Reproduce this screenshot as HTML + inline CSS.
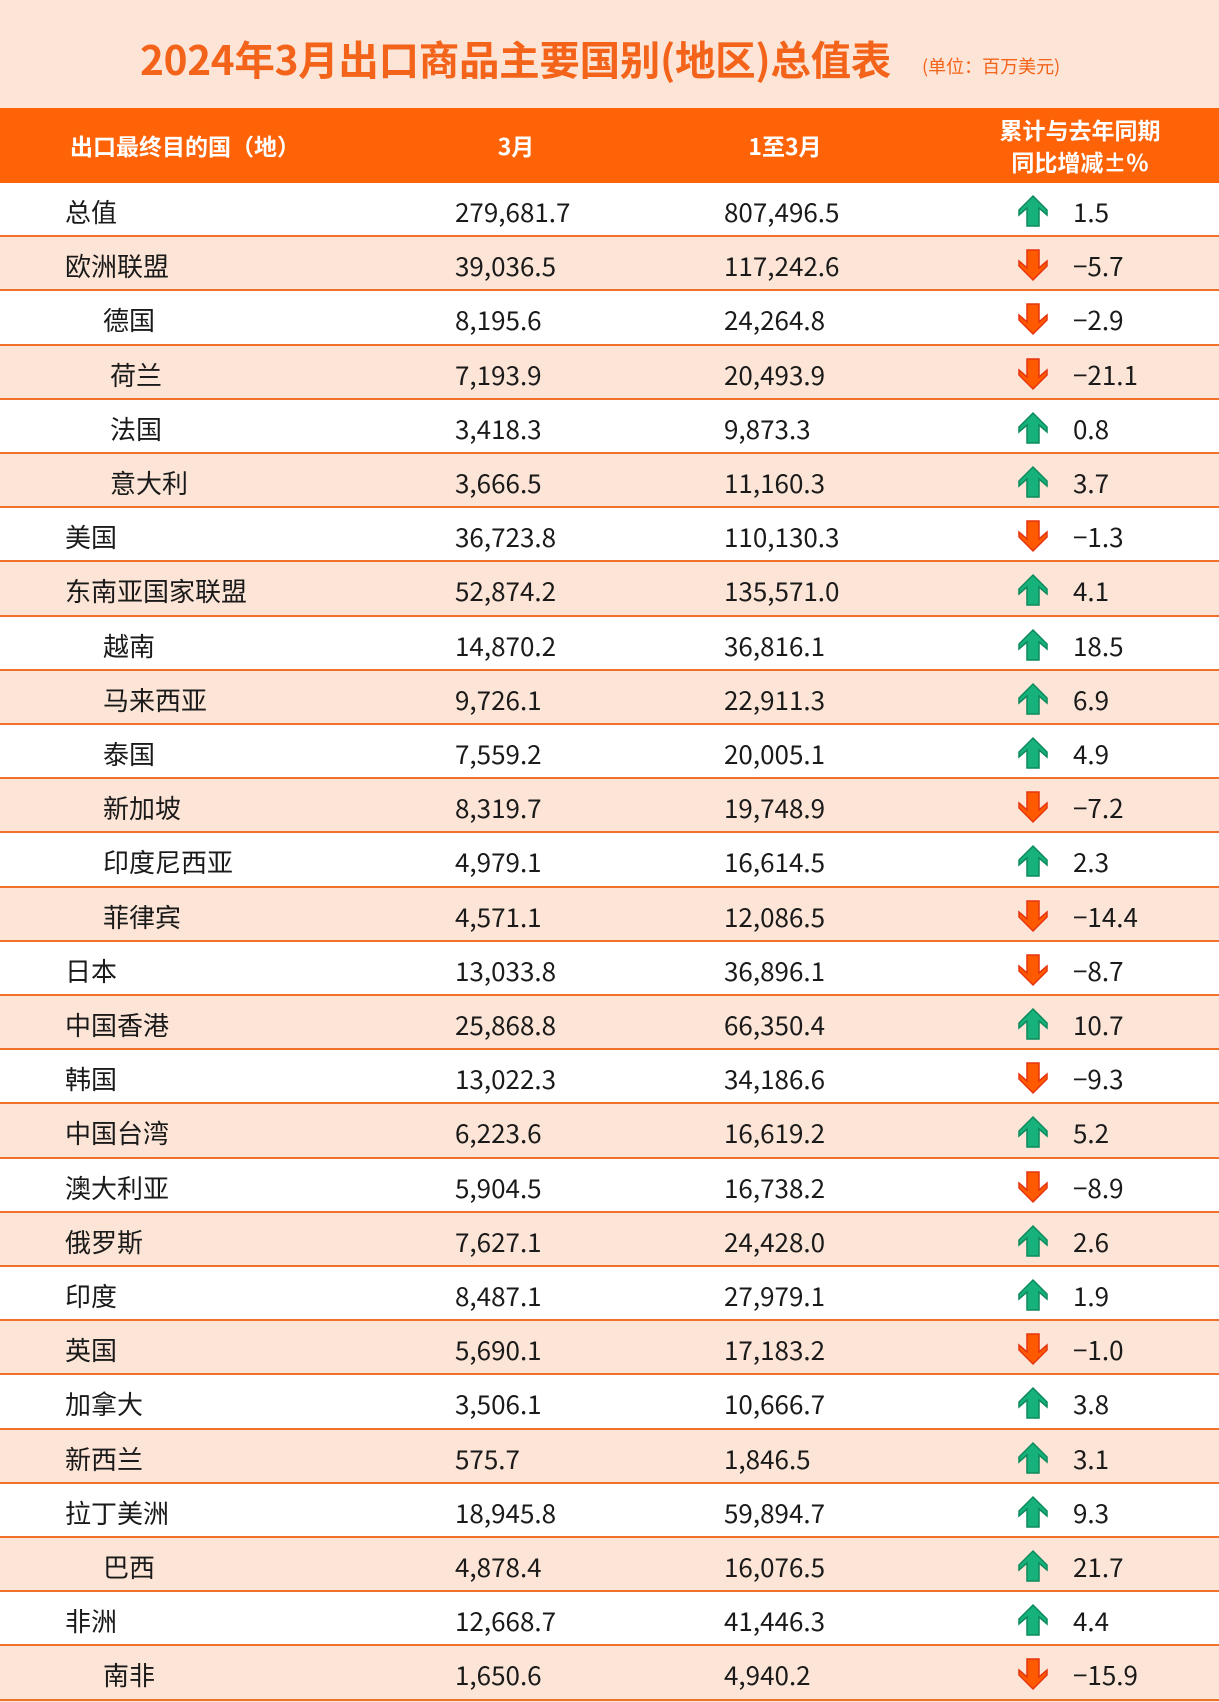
<!DOCTYPE html><html><head><meta charset="utf-8"><style>
*{margin:0;padding:0;box-sizing:border-box}
body{width:1219px;height:1700px;background:#fce4d6;font-family:"Noto Sans CJK SC","Liberation Sans",sans-serif;position:relative;overflow:hidden}
.title{position:absolute;top:0;left:0;width:1219px;height:108px;}
.t1{position:absolute;left:140px;top:32px;font-size:40.5px;line-height:52px;font-weight:bold;color:#f4631a;white-space:nowrap;letter-spacing:-0.3px}
.t2{position:absolute;left:922px;top:53px;font-size:18px;line-height:26px;color:#f4631a;white-space:nowrap}
.hdr{position:absolute;top:108px;left:0;width:1219px;height:75px;background:#ff6308;color:#fff;font-weight:bold;font-size:23px}
.hdr div{position:absolute;text-align:center;white-space:nowrap;line-height:32px}
.row{position:absolute;left:0;width:1219px;height:54.2px;border-bottom:2px solid #f0712a;font-size:26px;color:#1a1a1a}
.row span{position:absolute;top:2px;line-height:54px;white-space:nowrap}
.w{background:#fff}.p{background:#fce4d6}
svg{position:absolute;left:1016px;top:11px}
</style></head><body>
<div class="title"><div class="t1">2024年3月出口商品主要国别(地区)总值表</div><div class="t2">(单位：百万美元)</div></div>
<div class="hdr">
<div style="left:40px;width:290px;top:21px">出口最终目的国（地）</div>
<div style="left:456px;width:120px;top:21px">3月</div>
<div style="left:725px;width:120px;top:21px">1至3月</div>
<div style="left:960px;width:240px;top:5px">累计与去年同期<br>同比增减±%</div>
</div>
<div id="rows"></div>
<script>
var d=[["总值",0,"279,681.7","807,496.5","1.5"],["欧洲联盟",0,"39,036.5","117,242.6","-5.7"],["德国",1,"8,195.6","24,264.8","-2.9"],["荷兰",2,"7,193.9","20,493.9","-21.1"],["法国",2,"3,418.3","9,873.3","0.8"],["意大利",2,"3,666.5","11,160.3","3.7"],["美国",0,"36,723.8","110,130.3","-1.3"],["东南亚国家联盟",0,"52,874.2","135,571.0","4.1"],["越南",1,"14,870.2","36,816.1","18.5"],["马来西亚",1,"9,726.1","22,911.3","6.9"],["泰国",1,"7,559.2","20,005.1","4.9"],["新加坡",1,"8,319.7","19,748.9","-7.2"],["印度尼西亚",1,"4,979.1","16,614.5","2.3"],["菲律宾",1,"4,571.1","12,086.5","-14.4"],["日本",0,"13,033.8","36,896.1","-8.7"],["中国香港",0,"25,868.8","66,350.4","10.7"],["韩国",0,"13,022.3","34,186.6","-9.3"],["中国台湾",0,"6,223.6","16,619.2","5.2"],["澳大利亚",0,"5,904.5","16,738.2","-8.9"],["俄罗斯",0,"7,627.1","24,428.0","2.6"],["印度",0,"8,487.1","27,979.1","1.9"],["英国",0,"5,690.1","17,183.2","-1.0"],["加拿大",0,"3,506.1","10,666.7","3.8"],["新西兰",0,"575.7","1,846.5","3.1"],["拉丁美洲",0,"18,945.8","59,894.7","9.3"],["巴西",1,"4,878.4","16,076.5","21.7"],["非洲",0,"12,668.7","41,446.3","4.4"],["南非",1,"1,650.6","4,940.2","-15.9"]];
var up='<svg width="34" height="34" viewBox="0 0 34 34"><path d="M17 2 L31 16 L31 21 L23 14 L23 32 L11 32 L11 14 L3 21 L3 16 Z" fill="#17b17b" stroke="#0d8a5c" stroke-width="1.5"/></svg>';
var dn='<svg width="34" height="34" viewBox="0 0 34 34"><path d="M17 32 L31 18 L31 13 L23 20 L23 2 L11 2 L11 20 L3 13 L3 18 Z" fill="#ff5a00" stroke="#e5340f" stroke-width="1.5"/></svg>';
var h='';d.forEach(function(r,i){var top=183+i*54.2;var x=[65,103,110][r[1]];var v=r[4].replace('-','−');
h+='<div class="row '+(i%2?'p':'w')+'" style="top:'+top+'px"><span style="left:'+x+'px">'+r[0]+'</span><span style="left:455px">'+r[2]+'</span><span style="left:724px">'+r[3]+'</span>'+(r[4][0]=='-'?dn:up)+'<span style="left:1073px">'+v+'</span></div>';});
document.getElementById('rows').innerHTML=h;
</script>
</body></html>
